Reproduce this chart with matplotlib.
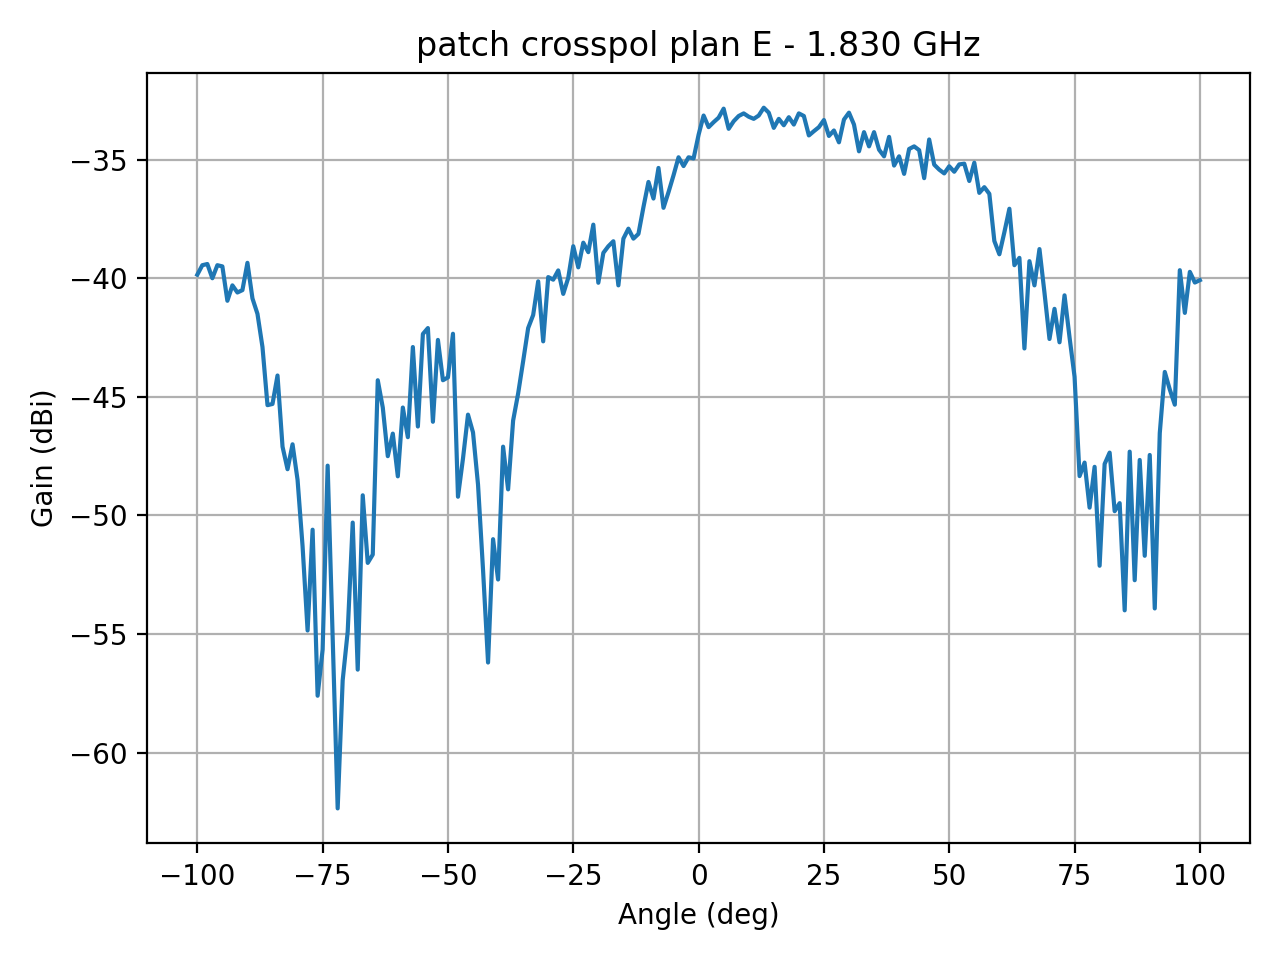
import numpy as np
import matplotlib
matplotlib.use("Agg")
import matplotlib.pyplot as plt

angle_start = -100
angle_stop = 100

gain_dbi = [
    # -100 .. -51
    -39.85, -39.45, -39.4, -40.0, -39.45, -39.5, -40.95, -40.3, -40.6, -40.5,
    -39.35, -40.85, -41.5, -42.9, -45.35, -45.3, -44.1, -47.1, -48.05, -47.0,
    -48.5, -51.3, -54.85, -50.6, -57.6, -55.65, -47.9, -55.1, -62.35, -56.95,
    -54.9, -50.3, -56.5, -49.15, -52.0, -51.65, -44.3, -45.45, -47.5, -46.55,
    -48.35, -45.45, -46.7, -42.9, -46.25, -42.35, -42.1, -46.05, -42.6, -44.3,
    # -50 .. -1
    -44.18, -42.34, -49.21, -47.6, -45.75, -46.5, -48.7, -52.3, -56.2, -51.0,
    -52.7, -47.1, -48.9, -46.0, -44.86, -43.5, -42.1, -41.55, -40.13, -42.66,
    -39.95, -40.06, -39.67, -40.66, -39.98, -38.65, -39.54, -38.5, -38.9, -37.74,
    -40.19, -38.93, -38.65, -38.44, -40.3, -38.33, -37.91, -38.33, -38.13, -37.0,
    -35.94, -36.64, -35.35, -37.03, -36.37, -35.66, -34.9, -35.27, -34.9, -34.95,
    # 0 .. 49
    -33.95, -33.14, -33.63, -33.42, -33.23, -32.85, -33.7, -33.38, -33.16, -33.05,
    -33.19, -33.28, -33.14, -32.81, -33.02, -33.66, -33.28, -33.55, -33.21, -33.52,
    -33.05, -33.16, -33.98, -33.8, -33.63, -33.33, -34.0, -33.77, -34.27, -33.31,
    -33.02, -33.52, -34.65, -33.84, -34.44, -33.84, -34.58, -34.86, -34.04, -35.25,
    -34.86, -35.6, -34.55, -34.44, -34.6, -35.78, -34.15, -35.21, -35.42, -35.58,
    # 50 .. 100
    -35.28, -35.51, -35.2, -35.17, -35.9, -35.13, -36.4, -36.16, -36.44, -38.43,
    -38.99, -38.06, -37.07, -39.45, -39.14, -42.96, -39.28, -40.3, -38.77, -40.61,
    -42.56, -41.29, -42.7, -40.72, -42.49, -44.15, -48.34, -47.77, -49.67, -47.95,
    -52.12, -47.83, -47.35, -49.82, -49.48, -54.0, -47.31, -52.73, -47.66, -51.7,
    -47.45, -53.92, -46.53, -43.95, -44.69, -45.33, -39.66, -41.46, -39.73, -40.18,
    -40.08,
]

angles = np.arange(angle_start, angle_stop + 1, 1)

fig, ax = plt.subplots(figsize=(6.4, 4.8), dpi=200)
ax.plot(angles, gain_dbi)
ax.grid(True)
ax.set_title("patch crosspol plan E - 1.830 GHz")
ax.set_xlabel("Angle (deg)")
ax.set_ylabel("Gain (dBi)")
fig.tight_layout()
fig.savefig("out.png", dpi=200)
